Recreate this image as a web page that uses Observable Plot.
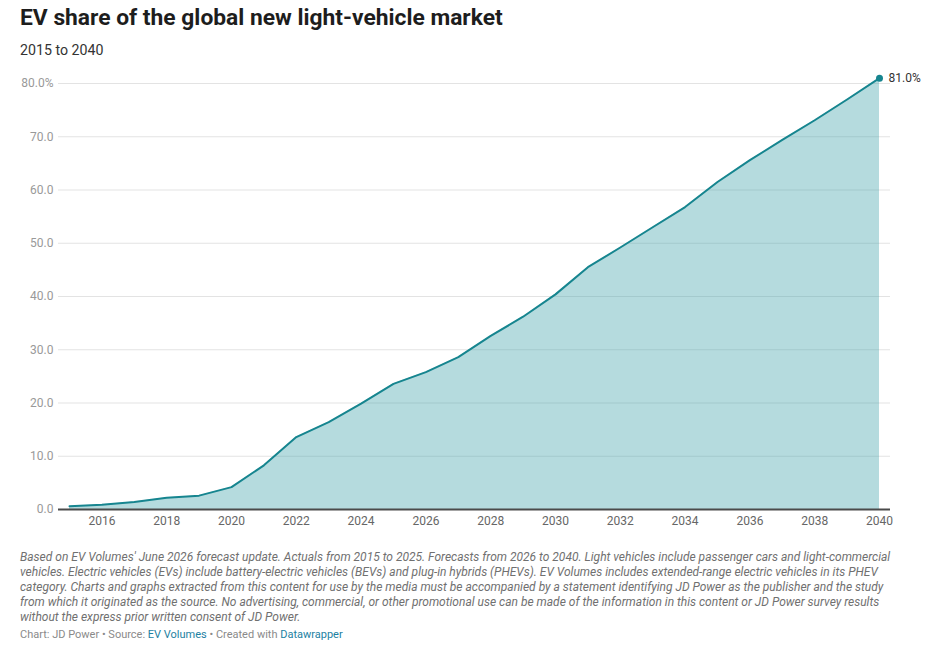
<!DOCTYPE html>
<html>
<head>
<meta charset="utf-8">
<script src="https://cdn.jsdelivr.net/npm/d3@7"></script>
<script src="https://cdn.jsdelivr.net/npm/@observablehq/plot@0.6"></script>
<style>
  html, body { margin: 0; padding: 0; background: #fff; }
  body { width: 945px; height: 650px; position: relative; font-family: Roboto, "Noto Sans", sans-serif; overflow: hidden; }
  #title { position: absolute; left: 20px; top: 4px; font-size: 22.8px; font-weight: 700; color: #1d1d1d; }
  #subtitle { position: absolute; left: 20px; top: 42px; font-size: 14.2px; color: #333; }
  #chart { position: absolute; left: 0; top: 60px; }
  #notes { position: absolute; left: 20px; top: 550px; font-size: 12px; font-style: italic; color: #707070; line-height: 15px; white-space: nowrap; }
  #byline { position: absolute; left: 20px; top: 628px; font-size: 11px; color: #8a8a8a; }
  #byline a { color: #1d81a2; text-decoration: none; }
</style>
</head>
<body>
<div id="title">EV share of the global new light-vehicle market</div>
<div id="subtitle">2015 to 2040</div>
<div id="chart"></div>
<div id="notes">Based on EV Volumes' June 2026 forecast update. Actuals from 2015 to 2025. Forecasts from 2026 to 2040. Light vehicles include passenger cars and light-commercial<br>vehicles. Electric vehicles (EVs) include battery-electric vehicles (BEVs) and plug-in hybrids (PHEVs). EV Volumes includes extended-range electric vehicles in its PHEV<br>category. Charts and graphs extracted from this content for use by the media must be accompanied by a statement identifying JD Power as the publisher and the study<br>from which it originated as the source. No advertising, commercial, or other promotional use can be made of the information in this content or JD Power survey results<br>without the express prior written consent of JD Power.</div>
<div id="byline">Chart: JD Power • Source: <a>EV Volumes</a> • Created with <a>Datawrapper</a></div>
<script>
// EV share of new light-vehicle sales, percent (actuals to 2025, forecast after)
const years = [2015, 2016, 2017, 2018, 2019, 2020, 2021, 2022, 2023, 2024, 2025, 2026, 2027,
               2028, 2029, 2030, 2031, 2032, 2033, 2034, 2035, 2036, 2037, 2038, 2039, 2040];
const share = [0.6, 0.9, 1.4, 2.2, 2.6, 4.2, 8.3, 13.6, 16.4, 19.9, 23.6, 25.8, 28.6,
               32.6, 36.2, 40.4, 45.5, 49.2, 53.0, 56.8, 61.5, 65.6, 69.4, 73.1, 77.0, 81.0];
const yTicks = [0, 10, 20, 30, 40, 50, 60, 70, 80];
const xTicks = [2016, 2018, 2020, 2022, 2024, 2026, 2028, 2030, 2032, 2034, 2036, 2038, 2040];

const data = years.map((year, i) => ({year, share: share[i]}));
const last = data[data.length - 1];
const teal = "#16858f";

const chart = Plot.plot({
  width: 945,
  height: 480,
  marginLeft: 58,
  marginRight: 55,
  marginTop: 23,
  marginBottom: 31,
  style: {fontFamily: "Roboto, sans-serif", fontSize: "12px", background: "transparent"},
  x: {domain: [2015, 2040], insetLeft: 11, insetRight: 11, label: null},
  y: {domain: [0, 80], label: null},
  marks: [
    Plot.ruleY(yTicks.filter(d => d > 0), {stroke: "#e3e3e3", strokeWidth: 1}),
    Plot.areaY(data, {x: "year", y: "share", fill: "#45a5ad", fillOpacity: 0.4}),
    Plot.ruleY([0], {stroke: "#4a4a4a", strokeWidth: 2}),
    Plot.lineY(data, {x: "year", y: "share", stroke: teal, strokeWidth: 2}),
    Plot.dot([last], {x: "year", y: "share", r: 3.5, fill: teal}),
    Plot.text([last], {x: "year", y: "share", text: d => d.share.toFixed(1) + "%", dx: 9, textAnchor: "start", fill: "#333", fontSize: 12}),
    Plot.axisY({ticks: yTicks, tickSize: 0, tickPadding: 5, fill: "#999",
      tickFormat: d => d === 80 ? d.toFixed(1) + "%" : d.toFixed(1)}),
    Plot.axisX({ticks: xTicks, tickSize: 0, tickPadding: 7, fill: "#666", tickFormat: d => String(d)})
  ]
});
document.getElementById("chart").appendChild(chart);
</script>
</body>
</html>
